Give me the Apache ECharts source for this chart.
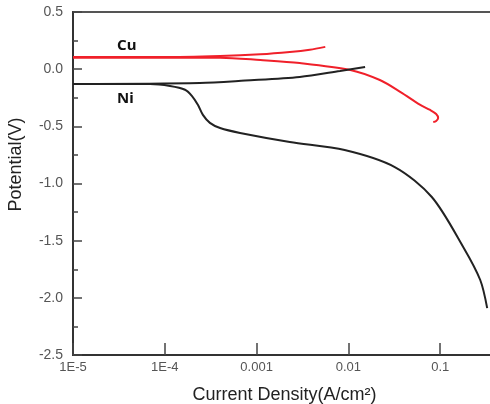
<!DOCTYPE html>
<html>
<head>
<meta charset="utf-8">
<script src="https://cdn.jsdelivr.net/npm/echarts@6/dist/echarts.min.js"></script>
<style>
    html, body { margin: 0; padding: 0; background: #fff; }
    #chart { width: 490px; height: 404px; }
</style>
</head>
<body>
<div id="chart"></div>
<script>
// 坐标轴刻度
var xTicks = [1e-5, 1e-4, 1e-3, 1e-2, 1e-1];
var xTickLabels = ['1E-5', '1E-4', '0.001', '0.01', '0.1'];

// Cu 曲线 (红), [current density, potential]
var cuUpper = [
    [1e-5, 0.106], [8.9e-5, 0.106], [4e-4, 0.115], [1.1e-3, 0.13],
    [2.3e-3, 0.15], [3.8e-3, 0.17], [5.6e-3, 0.195]
];
var cuLower = [
    [1e-5, 0.10], [4e-4, 0.10], [1.1e-3, 0.08], [2.95e-3, 0.054],
    [0.0105, -0.007], [0.022, -0.095], [0.037, -0.20], [0.060, -0.31],
    [0.0778, -0.357], [0.0904, -0.392], [0.095, -0.427], [0.0904, -0.453],
    [0.084, -0.462]
];

// Ni 曲线 (黑)
var niUpper = [
    [1e-5, -0.13], [2.4e-4, -0.121], [7.5e-4, -0.10], [2.95e-3, -0.069],
    [8.1e-3, -0.016], [0.0152, 0.019]
];
var niLower = [
    [1e-5, -0.13], [6.9e-5, -0.13], [1.14e-4, -0.147], [1.66e-4, -0.18],
    [1.98e-4, -0.235], [2.3e-4, -0.313], [2.6e-4, -0.40], [3.1e-4, -0.47],
    [4.0e-4, -0.515], [6.6e-4, -0.558], [2.3e-3, -0.637], [9.1e-3, -0.707],
    [0.032, -0.856], [0.081, -1.118], [0.178, -1.555], [0.273, -1.844],
    [0.325, -2.09]
];

var chart = echarts.init(document.getElementById('chart'));

function line(name, data, color) {
    return {
        name: name,
        type: 'line',
        data: data,
        smooth: 0.3,
        showSymbol: false,
        animation: false,
        lineStyle: { color: color, width: 2 }
    };
}

var option = {
    backgroundColor: '#fff',
    grid: {
        left: 73, top: 12, bottom: 49, right: -42,
        outerBoundsMode: 'none',
        containLabel: false,
        show: true, borderColor: '#555', borderWidth: 2
    },
    xAxis: {
        type: 'log',
        logBase: 10,
        min: 1e-5,
        max: 1,
        name: 'Current Density(A/cm²)',
        nameLocation: 'middle',
        nameGap: 31,
        nameTextStyle: { color: '#222', fontSize: 18, fontFamily: 'Liberation Sans', padding: [0, 36, 0, 0] },
        axisLine: { onZero: false, lineStyle: { color: '#333', width: 2 } },
        axisTick: { inside: true, length: 12, lineStyle: { color: '#444', width: 1.5 } },
        axisLabel: {
            color: '#555', fontSize: 13, margin: 6, fontFamily: 'Liberation Sans',
            formatter: function (v) {
                for (var i = 0; i < xTicks.length; i++) {
                    if (Math.abs(Math.log10(v) - Math.log10(xTicks[i])) < 1e-6) return xTickLabels[i];
                }
                return '';
            }
        },
        splitLine: { show: false },
        minorTick: { show: false }
    },
    yAxis: {
        type: 'value',
        min: -2.5,
        max: 0.5,
        interval: 0.5,
        name: 'Potential(V)',
        nameLocation: 'middle',
        nameGap: 48,
        nameTextStyle: { color: '#222', fontSize: 18, fontFamily: 'Liberation Sans', padding: [0, 0, 0, 38] },
        axisLine: { show: true, onZero: false, lineStyle: { color: '#333', width: 2 } },
        axisTick: { show: true, inside: true, length: 9, lineStyle: { color: '#444', width: 1.5 } },
        minorTick: { show: true, splitNumber: 2, length: 5, lineStyle: { color: '#444', width: 1.5 } },
        axisLabel: {
            color: '#555', fontSize: 14, margin: 10, fontFamily: 'Liberation Sans',
            formatter: function (v) { return v.toFixed(1); }
        },
        splitLine: { show: false }
    },
    graphic: [
        { type: 'text', left: 117, top: 38,
          style: { text: 'Cu', fontSize: 15, fontWeight: 'bold', fill: '#111', fontFamily: 'Noto Sans' } },
        { type: 'text', left: 117, top: 91,
          style: { text: 'Ni', fontSize: 15, fontWeight: 'bold', fill: '#111', fontFamily: 'Noto Sans' } }
    ],
    series: [
        line('Cu', cuUpper, '#f0202a'),
        line('Cu', cuLower, '#f0202a'),
        line('Ni', niUpper, '#222'),
        line('Ni', niLower, '#222')
    ]
};

chart.setOption(option);
</script>
</body>
</html>
